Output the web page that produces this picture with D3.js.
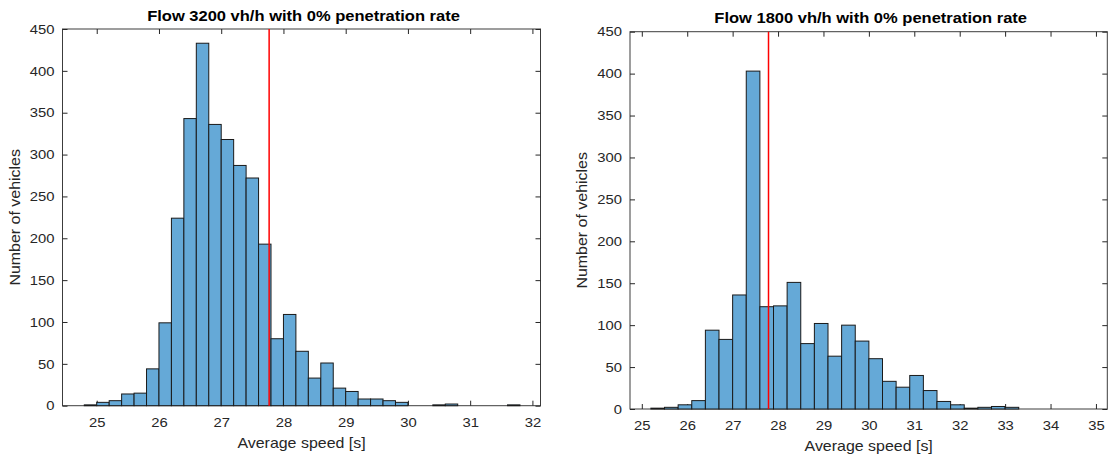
<!DOCTYPE html>
<html>
<head>
<meta charset="utf-8">
<script src="https://cdn.jsdelivr.net/npm/d3@7"></script>
<style>
  body { margin: 0; background: #fff; }
  svg { display: block; font-family: "Liberation Sans", Arial, sans-serif; }
  .tick text { fill: #262626; font-size: 13px; }
  .tick line { stroke: #262626; }
</style>
</head>
<body>
<svg id="chart" width="1108" height="457"></svg>
<script>
// bin edges and counts
var leftEdges = [24.8, 25.0, 25.2, 25.4, 25.6, 25.8, 26.0, 26.2, 26.4, 26.6, 26.8, 27.0,
	27.2, 27.4, 27.6, 27.8, 28.0, 28.2, 28.4, 28.6, 28.8, 29.0, 29.2, 29.4,
	29.6, 29.8, 30.0, 30.2, 30.4, 30.6, 30.8, 31.0, 31.2, 31.4, 31.6, 31.8]
var leftCounts = [1, 4, 6, 14, 15, 44, 99, 224, 343, 433, 336, 318,
	287, 272, 193, 80, 109, 65, 33, 51, 21, 17, 8, 8,
	6, 4, 0, 0, 1, 2, 0, 0, 0, 0, 1]
var leftMean = 27.77
var leftTitle = "Flow 3200 vh/h with 0% penetration rate"
var leftXTicks = [25, 26, 27, 28, 29, 30, 31, 32]
var leftXDomain = [24.45, 32.13]

var rightEdges = [25.2, 25.5, 25.8, 26.1, 26.4, 26.7, 27.0, 27.3, 27.6, 27.9, 28.2, 28.5,
	28.8, 29.1, 29.4, 29.7, 30.0, 30.3, 30.6, 30.9, 31.2, 31.5, 31.8, 32.1,
	32.4, 32.7, 33.0, 33.3]
var rightCounts = [1, 2, 5, 10, 94, 83, 136, 403, 122, 123, 151, 78,
	102, 63, 100, 81, 60, 33, 26, 40, 22, 9, 5, 1,
	2, 3, 2]
var rightMean = 27.79
var rightTitle = "Flow 1800 vh/h with 0% penetration rate"
var rightXTicks = [25, 26, 27, 28, 29, 30, 31, 32, 33, 34, 35]
var rightXDomain = [24.74, 35.25]

var yTicks = [0, 50, 100, 150, 200, 250, 300, 350, 400, 450]
var yDomain = [0, 450]
var xLabel = "Average speed [s]"
var yLabel = "Number of vehicles"

// the source figure's lettering is a bit wider than Liberation Sans
var stretch = 1.14

var svg = d3.select("#chart")

function drawHist(box, edges, counts, mean, title, xTicks, xDomain) {
	var x = d3.scaleLinear().domain(xDomain).range([box.left, box.right])
	var y = d3.scaleLinear().domain(yDomain).range([box.bottom, box.top])
	var g = svg.append("g")
	var bins = counts.map(function(c, i) {
		return {x0: edges[i], x1: edges[i + 1], n: c}
	})

	// frame
	g.append("rect")
		.attr("x", box.left)
		.attr("y", box.top)
		.attr("width", box.right - box.left)
		.attr("height", box.bottom - box.top)
		.attr("fill", "none")
		.attr("stroke", "#3c3c3c")
		.attr("stroke-width", 1)

	var tk = 5
	g.append("g")
		.attr("transform", "translate(0," + box.bottom + ")")
		.call(d3.axisBottom(x).tickValues(xTicks).tickSizeInner(-tk).tickSizeOuter(0).tickPadding(tk + 7))
		.call(function(a) {
			a.select(".domain").remove()
			a.selectAll(".tick text").attr("transform", "scale(" + stretch + ",1)")
		})
	g.append("g")
		.attr("transform", "translate(0," + box.top + ")")
		.call(d3.axisTop(x).tickValues(xTicks).tickSizeInner(-tk).tickSizeOuter(0).tickFormat(""))
		.call(function(a) { a.select(".domain").remove() })
	g.append("g")
		.attr("transform", "translate(" + box.left + ",0)")
		.call(d3.axisLeft(y).tickValues(yTicks).tickSizeInner(-tk).tickSizeOuter(0).tickPadding(tk + 2))
		.call(function(a) {
			a.select(".domain").remove()
			a.selectAll(".tick text").attr("transform", "scale(" + stretch + ",1)")
		})
	g.append("g")
		.attr("transform", "translate(" + box.right + ",0)")
		.call(d3.axisRight(y).tickValues(yTicks).tickSizeInner(-tk).tickSizeOuter(0).tickFormat(""))
		.call(function(a) { a.select(".domain").remove() })

	g.selectAll("rect.bar")
		.data(bins)
		.enter()
		.append("rect")
		.attr("class", "bar")
		.attr("x", function(d) { return x(d.x0) })
		.attr("width", function(d) { return x(d.x1) - x(d.x0) })
		.attr("y", function(d) { return y(d.n) })
		.attr("height", function(d) { return y(0) - y(d.n) })
		.attr("fill", "#65a9d7")
		.attr("stroke", "#1a1a1a")
		.attr("stroke-width", 1)

	g.append("line")
		.attr("x1", x(mean)).attr("x2", x(mean))
		.attr("y1", y(yDomain[1])).attr("y2", y(0))
		.attr("stroke", "#ff0000")
		.attr("stroke-width", 1.5)

	var cx = (box.left + box.right) / 2
	g.append("text")
		.attr("transform", "translate(" + (cx + 2) + "," + (box.top - 8.5) + ") scale(1.18,1)")
		.attr("text-anchor", "middle")
		.attr("font-size", "14px")
		.attr("font-weight", "bold")
		.attr("fill", "#000")
		.text(title)
	g.append("text")
		.attr("transform", "translate(" + cx + "," + (box.bottom + 42) + ") scale(" + stretch + ",1)")
		.attr("text-anchor", "middle")
		.attr("font-size", "14px")
		.attr("fill", "#262626")
		.text(xLabel)
	g.append("text")
		.attr("transform", "translate(" + (box.left - 43) + "," + ((box.top + box.bottom) / 2) + ") rotate(-90) scale(" + stretch + ",1)")
		.attr("text-anchor", "middle")
		.attr("font-size", "14px")
		.attr("fill", "#262626")
		.text(yLabel)
}

drawHist({left: 62.5, right: 540.5, top: 29, bottom: 405.7},
	leftEdges, leftCounts, leftMean, leftTitle, leftXTicks, leftXDomain)
drawHist({left: 630, right: 1107.3, top: 31.7, bottom: 409},
	rightEdges, rightCounts, rightMean, rightTitle, rightXTicks, rightXDomain)
</script>
</body>
</html>
